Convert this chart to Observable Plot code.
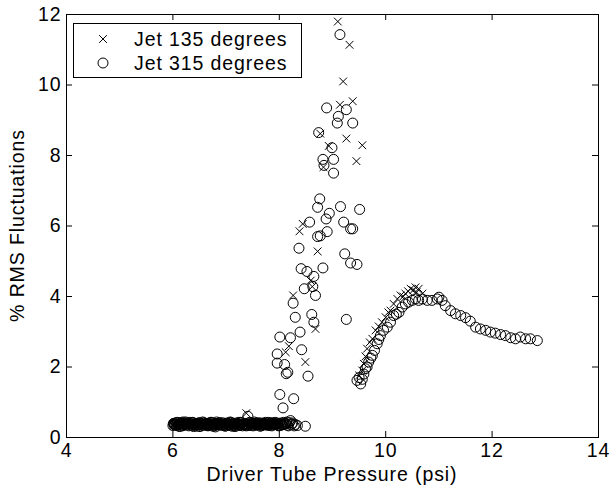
<!DOCTYPE html>
<html><head><meta charset="utf-8">
<script src="https://cdn.jsdelivr.net/npm/d3@7"></script>
<script src="https://cdn.jsdelivr.net/npm/@observablehq/plot@0.6"></script>
<style>
html,body{margin:0;padding:0;background:#fff;}
#chart svg text{letter-spacing:0.9px;}
</style></head><body><div id="chart"></div>
<script>
// ---- data ----
const xTicks = [4, 6, 8, 10, 12, 14];
const yTicks = [0, 2, 4, 6, 8, 10, 12];
const seriesNames = ["Jet 135 degrees", "Jet 315 degrees"];
const xLabel = "Driver Tube Pressure (psi)";
const yLabel = "% RMS Fluctuations";

// Jet 135 degrees (crosses)
const jet135Low = [[6.00,0.36],[6.03,0.41],[6.06,0.33],[6.09,0.42],[6.12,0.38],[6.16,0.31],[6.19,0.40],[6.22,0.44],[6.26,0.35],[6.29,0.39],[6.33,0.42],[6.36,0.32],[6.40,0.37],[6.43,0.41],[6.47,0.34],[6.50,0.40],[6.54,0.36],[6.57,0.43],[6.61,0.33],[6.64,0.38],[6.68,0.41],[6.71,0.35],[6.75,0.39],[6.78,0.32],[6.82,0.42],[6.85,0.37],[6.89,0.40],[6.92,0.34],[6.96,0.38],[6.99,0.43],[7.03,0.36],[7.06,0.31],[7.10,0.39],[7.13,0.42],[7.17,0.35],[7.20,0.40],[7.24,0.33],[7.27,0.38],[7.31,0.44],[7.34,0.36],[7.42,0.30],[7.45,0.41],[7.49,0.37],[7.52,0.34],[7.56,0.42],[7.59,0.36],[7.63,0.39],[7.66,0.31],[7.70,0.40],[7.73,0.35],[7.77,0.43],[7.80,0.38],[7.84,0.33],[7.87,0.41],[7.91,0.36],[7.95,0.39]];
const jet135Low2 = [[6.02,0.38],[6.05,0.43],[6.08,0.35],[6.11,0.40],[6.14,0.33],[6.17,0.41],[6.21,0.37],[6.24,0.32],[6.27,0.42],[6.31,0.36],[6.34,0.40],[6.38,0.34],[6.41,0.43],[6.45,0.38],[6.48,0.32],[6.52,0.41],[6.55,0.37],[6.59,0.34],[6.62,0.42],[6.66,0.36],[6.69,0.39],[6.73,0.31],[6.76,0.43],[6.80,0.37],[6.83,0.34],[6.87,0.41],[6.90,0.36],[6.94,0.42],[6.97,0.33],[7.01,0.39],[7.04,0.44],[7.08,0.35],[7.11,0.37],[7.15,0.41],[7.18,0.32],[7.22,0.38],[7.25,0.42],[7.29,0.35],[7.32,0.39],[7.36,0.33],[7.40,0.41],[7.44,0.36],[7.47,0.43],[7.51,0.38],[7.54,0.32],[7.58,0.40],[7.61,0.35],[7.65,0.42],[7.68,0.37],[7.72,0.33],[7.75,0.41],[7.79,0.36],[7.82,0.44],[7.86,0.37],[7.89,0.32],[7.93,0.40],[7.98,0.36],[8.02,0.41]];
const jet135Low3 = [[6.01,0.32],[6.07,0.39],[6.13,0.44],[6.18,0.36],[6.25,0.40],[6.30,0.33],[6.35,0.38],[6.42,0.35],[6.46,0.43],[6.53,0.32],[6.58,0.39],[6.63,0.41],[6.70,0.34],[6.74,0.42],[6.79,0.38],[6.86,0.33],[6.91,0.40],[6.95,0.36],[7.02,0.42],[7.07,0.38],[7.12,0.33],[7.19,0.43],[7.23,0.37],[7.28,0.31],[7.35,0.41],[7.39,0.38],[7.46,0.35],[7.50,0.42],[7.55,0.37],[7.62,0.33],[7.67,0.44],[7.71,0.38],[7.76,0.34],[7.83,0.40],[7.88,0.35],[7.94,0.42],[8.00,0.37]];
const jet135Burst = [[9.10,11.80],[9.32,11.14],[9.20,10.10],[9.14,9.44],[9.38,9.54],[9.26,8.48],[9.56,8.29],[8.93,8.27],[9.45,7.84],[8.77,8.62],[8.83,7.67],[8.44,6.06],[8.38,5.85],[8.72,5.28],[8.59,4.45],[8.62,4.28],[8.26,4.03],[8.68,3.08],[8.18,2.59],[8.12,2.42],[8.49,2.14],[7.38,0.69]];
const jet135Rise = [[9.50,1.76],[9.56,1.90],[9.59,2.09],[9.62,2.30],[9.65,2.52],[9.70,2.70],[9.75,2.80],[9.81,3.04],[9.87,3.15],[9.93,3.27],[10.00,3.41],[10.05,3.55],[10.09,3.60],[10.15,3.79],[10.22,3.93],[10.28,4.03],[10.33,4.00],[10.37,4.08],[10.42,4.15],[10.47,4.22],[10.52,4.18],[10.56,4.26],[10.58,4.12],[10.62,4.22],[10.69,4.08]];

// Jet 315 degrees (circles)
const jet315Low = [[6.01,0.40],[6.04,0.35],[6.08,0.43],[6.11,0.37],[6.14,0.41],[6.18,0.33],[6.21,0.39],[6.24,0.44],[6.28,0.36],[6.31,0.40],[6.35,0.34],[6.38,0.42],[6.42,0.38],[6.45,0.32],[6.49,0.41],[6.52,0.37],[6.56,0.44],[6.59,0.35],[6.63,0.40],[6.66,0.33],[6.70,0.38],[6.73,0.43],[6.77,0.36],[6.80,0.30],[6.84,0.39],[6.87,0.42],[6.91,0.35],[6.94,0.38],[6.98,0.32],[7.01,0.41],[7.05,0.36],[7.08,0.44],[7.12,0.38],[7.15,0.33],[7.19,0.41],[7.22,0.37],[7.26,0.34],[7.29,0.42],[7.33,0.38],[7.37,0.35],[7.44,0.43],[7.47,0.39],[7.51,0.33],[7.54,0.40],[7.58,0.36],[7.61,0.42],[7.65,0.38],[7.68,0.35],[7.72,0.40],[7.75,0.37],[7.79,0.43],[7.82,0.39],[7.86,0.33],[7.89,0.41],[7.93,0.37],[7.97,0.35],[8.00,0.40],[8.04,0.37],[8.08,0.43],[8.13,0.39],[8.17,0.33],[8.21,0.48],[8.25,0.41],[8.30,0.37],[8.34,0.34],[8.49,0.32],[7.41,0.60]];
const jet315Low2 = [[6.00,0.34],[6.03,0.39],[6.06,0.42],[6.10,0.36],[6.13,0.31],[6.16,0.40],[6.19,0.44],[6.23,0.37],[6.26,0.41],[6.30,0.33],[6.33,0.38],[6.37,0.43],[6.40,0.35],[6.44,0.40],[6.47,0.36],[6.51,0.31],[6.54,0.39],[6.58,0.42],[6.61,0.37],[6.65,0.34],[6.68,0.41],[6.72,0.36],[6.75,0.32],[6.79,0.40],[6.82,0.44],[6.86,0.35],[6.89,0.38],[6.93,0.42],[6.96,0.37],[7.00,0.33],[7.03,0.40],[7.07,0.35],[7.10,0.42],[7.14,0.37],[7.17,0.31],[7.21,0.39],[7.24,0.43],[7.28,0.36],[7.31,0.33],[7.35,0.40],[7.39,0.37],[7.43,0.34],[7.46,0.42],[7.50,0.38],[7.53,0.44],[7.57,0.35],[7.60,0.39],[7.64,0.32],[7.67,0.41],[7.71,0.36],[7.74,0.43],[7.78,0.38],[7.81,0.34],[7.85,0.40],[7.88,0.36],[7.92,0.43],[7.95,0.38],[7.99,0.33],[8.03,0.41],[8.06,0.36],[8.11,0.40],[8.15,0.35],[8.19,0.42],[8.23,0.37],[8.28,0.33]];
const jet315Low3 = [[6.02,0.37],[6.09,0.33],[6.15,0.42],[6.20,0.35],[6.27,0.39],[6.32,0.43],[6.39,0.31],[6.43,0.37],[6.50,0.42],[6.55,0.34],[6.60,0.39],[6.67,0.36],[6.71,0.43],[6.78,0.33],[6.83,0.37],[6.88,0.41],[6.95,0.34],[6.99,0.39],[7.06,0.42],[7.11,0.32],[7.16,0.38],[7.23,0.35],[7.27,0.43],[7.32,0.37],[7.38,0.33],[7.45,0.39],[7.49,0.35],[7.56,0.41],[7.62,0.37],[7.66,0.33],[7.73,0.39],[7.77,0.35],[7.84,0.42],[7.90,0.38],[7.96,0.41],[8.02,0.34],[8.09,0.38],[8.14,0.44]];
const jet315Burst = [[9.14,11.43],[8.89,9.35],[9.26,9.30],[9.11,9.11],[9.09,8.92],[9.38,8.92],[8.74,8.65],[8.99,8.22],[8.82,7.89],[9.02,7.89],[8.84,7.72],[9.02,7.50],[8.76,6.77],[8.72,6.53],[9.15,6.55],[9.51,6.47],[8.94,6.36],[8.88,6.20],[9.21,6.11],[8.57,6.11],[9.34,5.92],[9.38,5.92],[8.90,5.84],[8.72,5.70],[8.77,5.72],[8.37,5.37],[9.23,5.21],[9.34,4.95],[9.46,4.91],[8.82,4.81],[8.41,4.79],[8.52,4.71],[8.65,4.57],[8.47,4.22],[8.63,4.28],[8.68,4.03],[8.26,3.81],[8.30,3.41],[8.61,3.49],[8.65,3.27],[9.26,3.35],[8.39,2.99],[8.01,2.85],[8.21,2.83],[7.96,2.37],[8.42,2.49],[7.96,2.11],[8.10,2.07],[8.13,1.81],[8.16,1.85],[8.54,1.74],[8.01,1.22],[8.27,1.10],[8.07,0.84]];
const jet315Rise = [[9.46,1.62],[9.50,1.70],[9.53,1.52],[9.56,1.65],[9.59,1.80],[9.62,1.95],[9.65,2.00],[9.68,2.14],[9.72,2.25],[9.75,2.33],[9.79,2.47],[9.84,2.66],[9.87,2.78],[9.90,2.89],[9.96,3.04],[10.03,3.13],[10.09,3.27],[10.15,3.46],[10.20,3.50],[10.25,3.55],[10.31,3.70],[10.37,3.79],[10.43,3.84],[10.50,3.89],[10.56,3.93],[10.62,3.89],[10.69,3.93],[10.78,3.89],[10.87,3.89],[10.97,3.93],[11.00,3.98],[11.06,3.89],[11.12,3.74],[11.22,3.60],[11.31,3.51],[11.41,3.46],[11.50,3.40],[11.59,3.30],[11.69,3.13],[11.78,3.08],[11.88,3.04],[11.97,2.99],[12.06,2.96],[12.16,2.92],[12.25,2.89],[12.35,2.83],[12.44,2.80],[12.53,2.85],[12.63,2.80],[12.72,2.80],[12.85,2.75]];

// ---- chart ----
const W = 613, H = 487, mL = 66, mR = 15, mT = 14, mB = 50;
const frameW = W - mL - mR, frameH = H - mT - mB, tickLen = 6;
const font = "'Liberation Sans', Arial, Helvetica, sans-serif";
const fs = 19.5;
const toObj = a => a.map(([x, y]) => ({x, y}));
const d135 = toObj([...jet135Low, ...jet135Low2, ...jet135Low3, ...jet135Burst, ...jet135Rise]);
const d315 = toObj([...jet315Low, ...jet315Low2, ...jet315Low3, ...jet315Burst, ...jet315Rise]);
const crossR = 3.6, circR = 5;

const plot = Plot.plot({
  width: W, height: H,
  marginLeft: mL, marginRight: mR, marginTop: mT, marginBottom: mB,
  style: {fontFamily: font, fontSize: fs + "px", color: "#000", background: "#fff", overflow: "visible"},
  x: {domain: [4, 14], label: null},
  y: {domain: [0, 12], label: null},
  marks: [
    Plot.axisX({ticks: xTicks, anchor: "bottom", tickSize: 0, tickPadding: 6, label: null, fontSize: fs}),
    Plot.axisY({ticks: yTicks, anchor: "left", tickSize: 0, tickPadding: 5, label: null, fontSize: fs}),
    Plot.ruleX(xTicks, {x: d => d, insetTop: frameH - tickLen, stroke: "#000"}),
    Plot.ruleX(xTicks, {x: d => d, insetBottom: frameH - tickLen, stroke: "#000"}),
    Plot.ruleY(yTicks, {y: d => d, insetRight: frameW - tickLen, stroke: "#000"}),
    Plot.ruleY(yTicks, {y: d => d, insetLeft: frameW - tickLen, stroke: "#000"}),
    Plot.dot(d135, {x: "x", y: "y", symbol: "times", r: crossR, stroke: "#000", strokeWidth: 1, fill: "none"}),
    Plot.dot(d315, {x: "x", y: "y", symbol: "circle", r: circR, stroke: "#000", strokeWidth: 1, fill: "none"}),
    Plot.frame({stroke: "#000", strokeWidth: 1})
  ]
});

const svg = d3.select(plot);
const fx = plot.scale("x"), fy = plot.scale("y");
const cx = (fx.range[0] + fx.range[1]) / 2, cy = (fy.range[0] + fy.range[1]) / 2;

svg.append("text").attr("x", cx).attr("y", H - 6).attr("text-anchor", "middle")
  .attr("font-family", font).attr("font-size", fs).attr("fill", "#000").text(xLabel);
svg.append("text").attr("transform", `translate(24,${cy}) rotate(-90)`).attr("text-anchor", "middle")
  .attr("font-family", font).attr("font-size", fs).attr("fill", "#000").text(yLabel);

// legend
const lg = svg.append("g");
lg.append("rect").attr("x", 73.5).attr("y", 23.5).attr("width", 228).attr("height", 54)
  .attr("fill", "#fff").attr("stroke", "#000").attr("stroke-width", 1);
const syms = [d3.symbolTimes, d3.symbolCircle];
const rs = [crossR, circR];
seriesNames.forEach((name, i) => {
  const yy = 39 + i * 24;
  lg.append("path").attr("transform", `translate(103,${yy})`)
    .attr("d", d3.symbol(syms[i], rs[i] * rs[i] * Math.PI)())
    .attr("fill", "none").attr("stroke", "#000").attr("stroke-width", 1);
  lg.append("text").attr("x", 134).attr("y", yy + 7).attr("text-anchor", "start")
    .attr("font-family", font).attr("font-size", fs).attr("fill", "#000").text(name);
});

document.getElementById("chart").appendChild(plot);
</script>
</body></html>
